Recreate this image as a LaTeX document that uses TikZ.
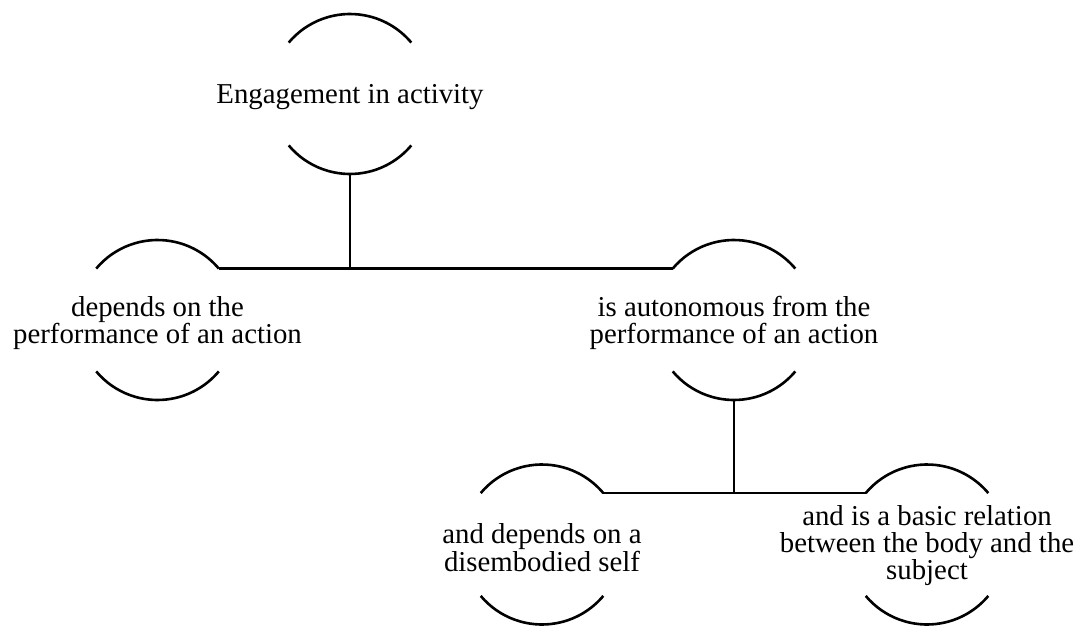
\documentclass[tikz,border=0pt]{standalone}
\usepackage{fontspec}
\setmainfont{Liberation Serif}

\begin{document}
\begin{tikzpicture}[x=1pt,y=-1pt,line width=2.6pt,
  ring/.style={circle,minimum size=160pt,inner sep=0pt,outer sep=0pt},
  txt/.style={align=center,yshift=-3pt,font=\fontsize{28.8}{27.3}\selectfont}]
\useasboundingbox (0,0) rectangle (1085,626);
  \node[ring] (eng) at (350,94) {};
  \node[ring] (dep) at (157.5,320) {};
  \node[ring] (auto) at (734,320) {};
  \node[ring] (self) at (542,544.5) {};
  \node[ring] (rel) at (927,544.5) {};
  \node[txt] (eng-t) at (eng) {Engagement in activity};
  \node[txt] (dep-t) at (dep) {depends on the\\performance of an action};
  \node[txt] (auto-t) at (auto) {is autonomous from the\\performance of an action};
  \node[txt] (self-t) at (self) {and depends on a\\disembodied self};
  \node[txt,yshift=2pt] (rel-t) at (rel) {and is a basic relation\\between the body and the\\subject};
  %%%%%%%%%%%%%%%% half rings above and below each text
  \foreach \n in {eng,dep,auto,self,rel}{
    \draw (\n.140) arc[start angle=140,end angle=40,radius=80pt];
    \draw (\n.220) arc[start angle=220,end angle=320,radius=80pt];
  }
  %%%%%%%%%%%%%%%%
  \draw (dep.40) -- (auto.140);
  \draw (eng.south) -- (eng.south |- dep.40);
  \draw (self.40) -- (rel.140);
  \draw (auto.south) -- (auto.south |- self.40);
\end{tikzpicture}
\end{document}
